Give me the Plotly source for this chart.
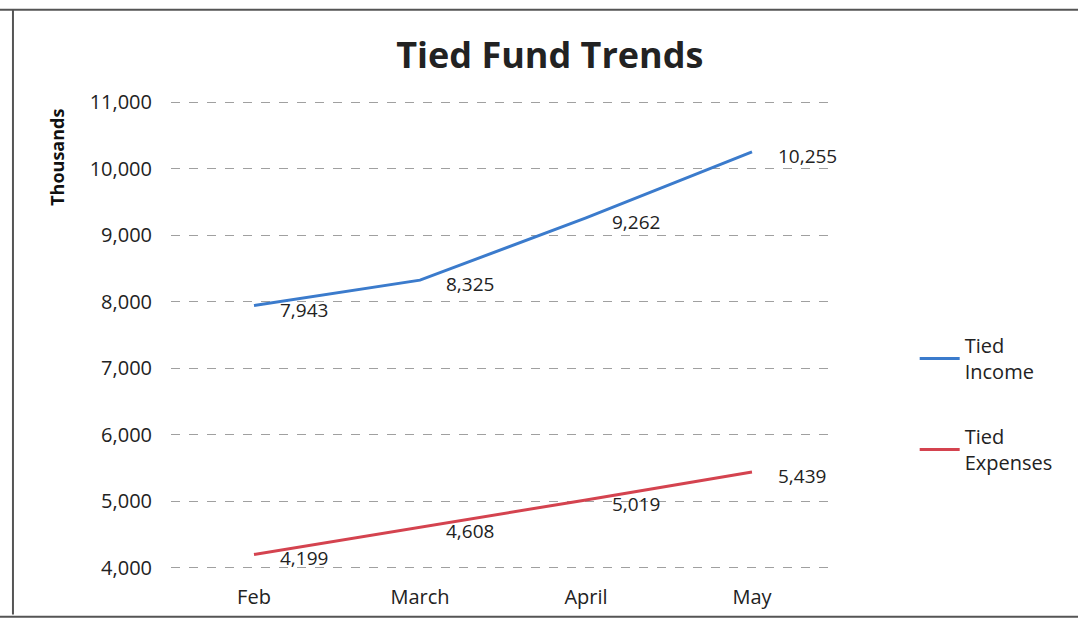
import plotly.graph_objects as go

months = ["Feb", "March", "April", "May"]
tied_income = [7943, 8325, 9262, 10255]
tied_expenses = [4199, 4608, 5019, 5439]
y_ticks = [4000, 5000, 6000, 7000, 8000, 9000, 10000, 11000]

BLUE = "#3b7bcc"
RED = "#d4434f"
FONT = "Open Sans"

fig = go.Figure()
fig.add_trace(go.Scatter(x=months, y=tied_income, mode="lines", name="Tied<br>Income",
                         line=dict(color=BLUE, width=3), legendgroup="a"))
fig.add_trace(go.Scatter(x=months, y=tied_expenses, mode="lines", name="Tied<br>Expenses",
                         line=dict(color=RED, width=3), legendgroup="b"))

annotations = []
for series in (tied_income, tied_expenses):
    for m, v in zip(months, series):
        annotations.append(dict(x=m, y=v, xref="x", yref="y", text=f"{v:,}",
                                showarrow=False, xanchor="left", yanchor="middle",
                                xshift=24, yshift=-4,
                                font=dict(family=FONT, size=19, color="#222")))
annotations.append(dict(x=-0.172, y=0.877, xref="paper", yref="paper", text="<b>Thousands</b>",
                        textangle=-90, showarrow=False, xanchor="center", yanchor="middle",
                        font=dict(family=FONT, size=18, color="#111")))
fig.update_layout(
    width=1078, height=621,
    margin=dict(l=171, r=243, t=99, b=50),
    paper_bgcolor="white", plot_bgcolor="white",
    title=dict(text="<b>Tied Fund Trends</b>", x=0.51, xanchor="center", y=0.91, yanchor="middle",
               font=dict(family=FONT, size=36, color="#222")),
    xaxis=dict(showgrid=False, tickfont=dict(family=FONT, size=20, color="#222"),
               range=[-0.5, 3.5], automargin=False,
               ticks="", ticklabelstandoff=12, showline=False),
    yaxis=dict(range=[3950, 11050], tickvals=y_ticks, tickformat=",", automargin=False,
               showgrid=True, gridcolor="#a0a0a0", griddash="dash", gridwidth=1,
               tickfont=dict(family=FONT, size=20, color="#222"),
               ticks="", ticklabelstandoff=18, zeroline=False, showline=False),
    legend=dict(x=1.12, xanchor="left", y=0.354, yanchor="middle",
                font=dict(family=FONT, size=20, color="#222"),
                tracegroupgap=36, itemwidth=40, bgcolor="rgba(0,0,0,0)"),
    annotations=annotations,
    shapes=[
        dict(type="line", xref="paper", yref="paper", x0=-0.26, x1=1.4, y0=1.189, y1=1.189,
             line=dict(color="#555", width=2)),
        dict(type="line", xref="paper", yref="paper", x0=-0.238, x1=-0.238, y0=1.189, y1=-0.092,
             line=dict(color="#555", width=2)),
        dict(type="line", xref="paper", yref="paper", x0=-0.26, x1=1.4, y0=-0.097, y1=-0.097,
             line=dict(color="#555", width=2)),
    ],
)

fig.write_html("out.html", config={"displayModeBar": False},
               post_script="document.body.style.margin='0';")
